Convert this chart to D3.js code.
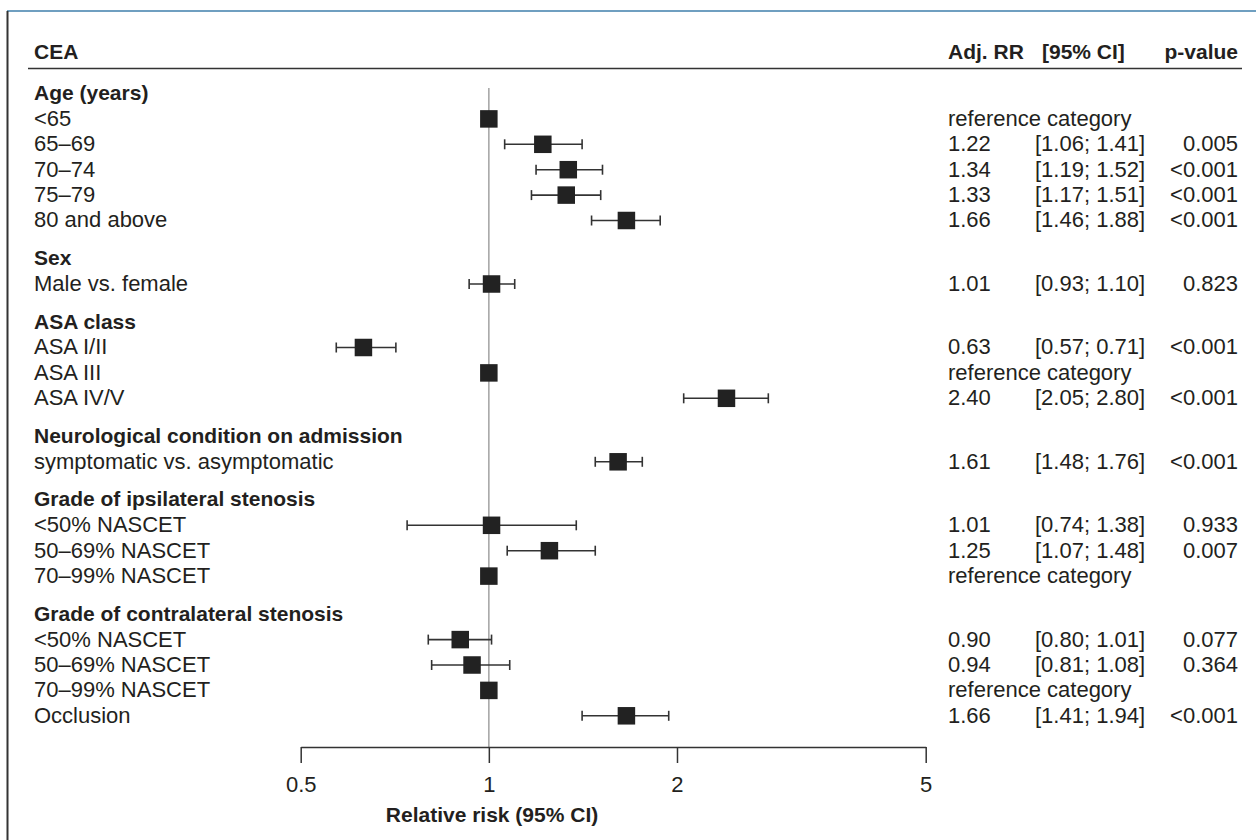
<!DOCTYPE html>
<html>
<head>
<meta charset="utf-8">
<script src="https://cdn.jsdelivr.net/npm/d3@7"></script>
<style>
  html, body { margin: 0; padding: 0; background: #fff; }
  svg { display: block; font-family: "Liberation Sans", Arial, Helvetica, sans-serif; }
  text { fill: #231f20; }
</style>
</head>
<body>
<svg id="chart" width="1256" height="840"></svg>
<script>
// ---------------- data ----------------
const title = "CEA";
const columnHeaders = ["Adj. RR", "[95% CI]", "p-value"];
const groups = [
  "Age (years)",
  "Sex",
  "ASA class",
  "Neurological condition on admission",
  "Grade of ipsilateral stenosis",
  "Grade of contralateral stenosis"
];
const rowLabels = [
  "<65", "65–69", "70–74", "75–79", "80 and above",
  "Male vs. female",
  "ASA I/II", "ASA III", "ASA IV/V",
  "symptomatic vs. asymptomatic",
  "<50% NASCET", "50–69% NASCET", "70–99% NASCET",
  "<50% NASCET", "50–69% NASCET", "70–99% NASCET", "Occlusion"
];
const rowGroup = [0,0,0,0,0, 1, 2,2,2, 3, 4,4,4, 5,5,5,5];
const isReference = [true,false,false,false,false, false, false,true,false, false, false,false,true, false,false,true,false];
const adjRR  = [1.00, 1.22, 1.34, 1.33, 1.66, 1.01, 0.63, 1.00, 2.40, 1.61, 1.01, 1.25, 1.00, 0.90, 0.94, 1.00, 1.66];
const ciLow  = [null, 1.06, 1.19, 1.17, 1.46, 0.93, 0.57, null, 2.05, 1.48, 0.74, 1.07, null, 0.80, 0.81, null, 1.41];
const ciHigh = [null, 1.41, 1.52, 1.51, 1.88, 1.10, 0.71, null, 2.80, 1.76, 1.38, 1.48, null, 1.01, 1.08, null, 1.94];
const pValues = ["", "0.005", "<0.001", "<0.001", "<0.001", "0.823", "<0.001", "", "<0.001", "<0.001", "0.933", "0.007", "", "0.077", "0.364", "", "<0.001"];
const referenceText = "reference category";
const tickValues = [0.5, 1, 2, 5];
const tickLabels = ["0.5", "1", "2", "5"];
const axisTitle = "Relative risk (95% CI)";

// ---------------- layout ----------------
const svg = d3.select("#chart");
const W = 1256, H = 840;
const FS = 22;      // regular text
const FSB = 21;     // bold text
const labelX = 34;
const rrX = 948, ciX = 1035, pX = 1238;
const axisY = 747;

const GAP = 0.5; // extra space between groups, in line units
const lines = [];
let slot = 0;
groups.forEach((g, gi) => {
  if (gi > 0) slot += GAP;
  lines.push({type: "group", text: g, slot: slot});
  slot += 1;
  rowLabels.forEach((lab, i) => {
    if (rowGroup[i] === gi) {
      lines.push({type: "row", text: lab, idx: i, slot: slot});
      slot += 1;
    }
  });
});
const y = d3.scaleLinear().domain([0, 1]).range([93.5, 118.9]);
const x = d3.scaleLog().domain([0.5, 5]).range([300.7, 925.7]);

// frame
svg.append("rect").attr("x", 0).attr("y", 0).attr("width", W).attr("height", H).attr("fill", "#fff");
svg.append("line").attr("x1", 7).attr("x2", W).attr("y1", 11).attr("y2", 11)
  .attr("stroke", "#3f7fab").attr("stroke-width", 1.6);
svg.append("line").attr("x1", 7.5).attr("x2", 7.5).attr("y1", 11).attr("y2", H)
  .attr("stroke", "#333").attr("stroke-width", 2);

// header
svg.append("text").attr("x", labelX).attr("y", 58.5).attr("font-size", FSB).attr("font-weight", "bold").text(title);
svg.append("text").attr("x", rrX).attr("y", 58.5).attr("font-size", FSB).attr("font-weight", "bold").text(columnHeaders[0]);
svg.append("text").attr("x", 1042).attr("y", 58.5).attr("font-size", FSB).attr("font-weight", "bold").text(columnHeaders[1]);
svg.append("text").attr("x", 1238).attr("y", 58.5).attr("font-size", FSB).attr("font-weight", "bold")
  .attr("text-anchor", "end").text(columnHeaders[2]);
svg.append("line").attr("x1", 28).attr("x2", 1242).attr("y1", 68.5).attr("y2", 68.5)
  .attr("stroke", "#333").attr("stroke-width", 1.5);

// reference line at RR = 1
svg.append("line").attr("x1", x(1)).attr("x2", x(1)).attr("y1", 88).attr("y2", axisY)
  .attr("stroke", "#a8a8a8").attr("stroke-width", 1.6);

// left labels
svg.append("g").selectAll("text").data(lines).join("text")
  .attr("x", labelX)
  .attr("y", d => y(d.slot) - 1)
  .attr("dy", "0.36em")
  .attr("font-size", d => d.type === "group" ? FSB : FS)
  .attr("font-weight", d => d.type === "group" ? "bold" : "normal")
  .text(d => d.text);

const rows = lines.filter(d => d.type === "row");

// CI bars
const ci = svg.append("g").attr("stroke", "#333").attr("stroke-width", 1.6);
rows.filter(d => !isReference[d.idx]).forEach(d => {
  const yy = y(d.slot);
  const x1 = x(ciLow[d.idx]), x2 = x(ciHigh[d.idx]);
  ci.append("line").attr("x1", x1).attr("x2", x2).attr("y1", yy).attr("y2", yy);
  ci.append("line").attr("x1", x1).attr("x2", x1).attr("y1", yy - 5).attr("y2", yy + 5);
  ci.append("line").attr("x1", x2).attr("x2", x2).attr("y1", yy - 5).attr("y2", yy + 5);
});

// squares
const S = 17.5;
svg.append("g").selectAll("rect").data(rows).join("rect")
  .attr("x", d => x(adjRR[d.idx]) - S / 2)
  .attr("y", d => y(d.slot) - S / 2)
  .attr("width", S).attr("height", S)
  .attr("fill", "#222");

// right-hand columns
const right = svg.append("g").attr("font-size", FS);
rows.forEach(d => {
  const ty = y(d.slot) - 1;
  if (isReference[d.idx]) {
    right.append("text").attr("x", rrX).attr("y", ty).attr("dy", "0.36em").text(referenceText);
  } else {
    right.append("text").attr("x", rrX).attr("y", ty).attr("dy", "0.36em").text(adjRR[d.idx].toFixed(2));
    right.append("text").attr("x", ciX).attr("y", ty).attr("dy", "0.36em")
      .text("[" + ciLow[d.idx].toFixed(2) + "; " + ciHigh[d.idx].toFixed(2) + "]");
    right.append("text").attr("x", pX).attr("y", ty).attr("dy", "0.36em").attr("text-anchor", "end").text(pValues[d.idx]);
  }
});

// axis
const axis = d3.axisBottom(x).tickValues(tickValues)
  .tickFormat((d, i) => tickLabels[i]).tickSize(16).tickSizeOuter(0).tickPadding(13);
const ag = svg.append("g").attr("transform", `translate(0,${axisY})`).call(axis);
ag.selectAll("path, line").attr("stroke", "#333").attr("stroke-width", 1.5);
ag.selectAll("text").attr("font-size", FS).attr("font-family", "Liberation Sans, Arial, sans-serif").attr("fill", "#231f20");

svg.append("text").attr("x", 492).attr("y", 822).attr("text-anchor", "middle")
  .attr("font-size", FSB).attr("font-weight", "bold").text(axisTitle);
</script>
</body>
</html>
